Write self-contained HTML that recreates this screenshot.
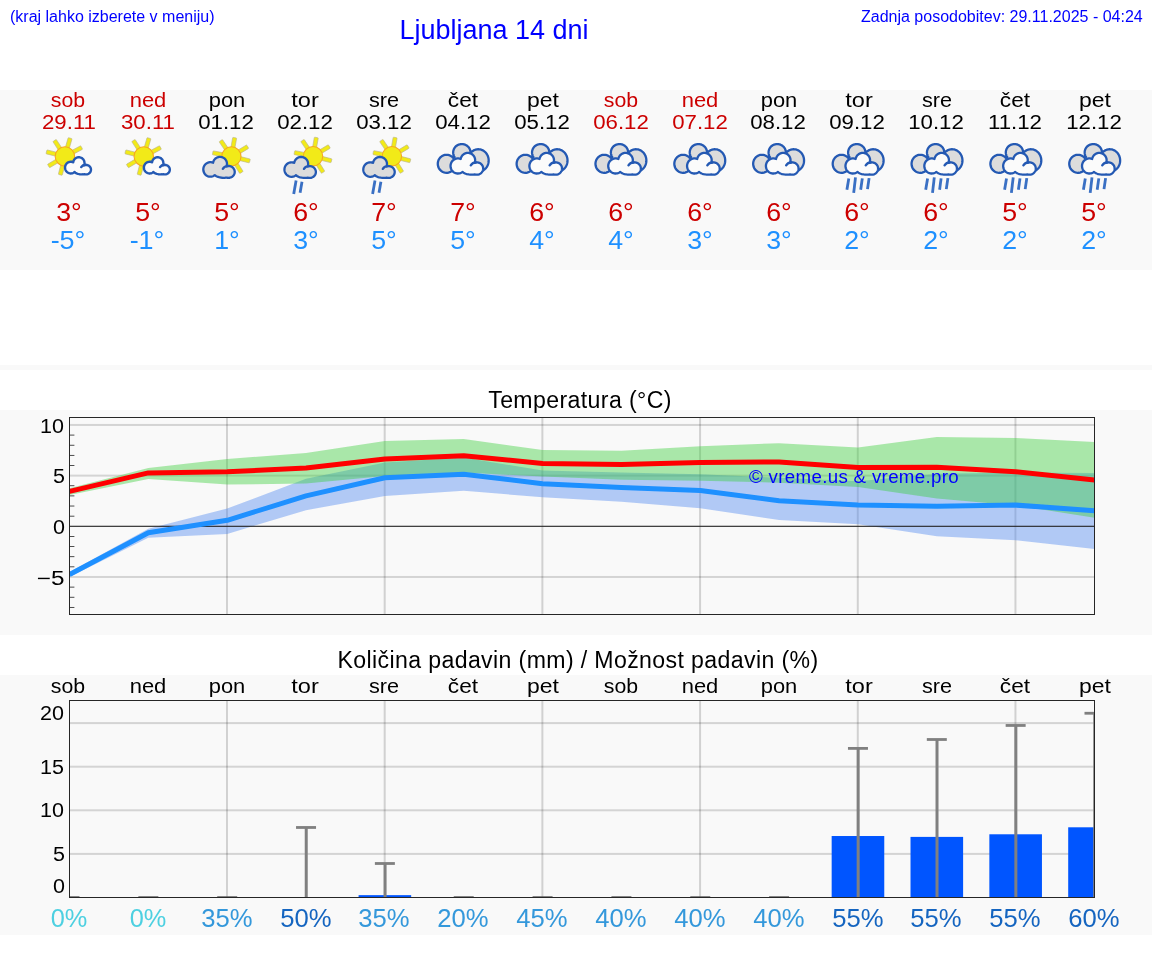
<!DOCTYPE html>
<html lang="sl"><head><meta charset="utf-8"><title>Ljubljana 14 dni</title>
<style>
html,body{margin:0;padding:0;background:#fff}
body{width:1152px;height:975px;position:relative;overflow:hidden;font-family:"Liberation Sans",sans-serif}
.t{position:absolute;white-space:nowrap;line-height:1;will-change:transform;font-family:"Liberation Sans",sans-serif}
.band{position:absolute;left:0;width:1152px;background:#f9f9f9}
svg{position:absolute;left:0;top:0;overflow:visible}
</style></head><body>
<div id="header">
<span class="t " style="top:9.06px;font-size:16.00px;color:#0000ff;left:9.70px;transform-origin:0 50%;transform:scaleX(1.0000);">(kraj lahko izberete v meniju)</span>
<span class="t " style="top:17.04px;font-size:27.00px;color:#0000ff;left:494.20px;transform:translateX(-50%) scaleX(1.0000);">Ljubljana 14 dni</span>
<span class="t " style="top:9.06px;font-size:16.00px;color:#0000ff;right:9.40px;transform-origin:100% 50%;transform:scaleX(1.0000);">Zadnja posodobitev: 29.11.2025 - 04:24</span>
</div>
<div class="band" id="forecast" style="top:90px;height:180px"></div>
<div id="days">
<span class="t " style="top:89.52px;font-size:20.41px;color:#cc0000;left:68.00px;transform:translateX(-50%) scaleX(1.0441);">sob</span>
<span class="t " style="top:112.02px;font-size:20.41px;color:#cc0000;left:68.75px;transform:translateX(-50%) scaleX(1.0895);">29.11</span>
<span class="t " style="top:200.13px;font-size:25.83px;color:#cc0000;left:69.00px;transform:translateX(-50%) scaleX(1.0352);">3°</span>
<span class="t " style="top:228.03px;font-size:25.83px;color:#1e90ff;left:68.10px;transform:translateX(-50%) scaleX(1.0431);">-5°</span>
<span class="t " style="top:89.52px;font-size:20.41px;color:#cc0000;left:147.60px;transform:translateX(-50%) scaleX(1.0753);">ned</span>
<span class="t " style="top:112.02px;font-size:20.41px;color:#cc0000;left:147.60px;transform:translateX(-50%) scaleX(1.0895);">30.11</span>
<span class="t " style="top:200.13px;font-size:25.83px;color:#cc0000;left:147.85px;transform:translateX(-50%) scaleX(1.0352);">5°</span>
<span class="t " style="top:228.03px;font-size:25.83px;color:#1e90ff;left:146.95px;transform:translateX(-50%) scaleX(1.0431);">-1°</span>
<span class="t " style="top:89.52px;font-size:20.41px;color:#000;left:227.19px;transform:translateX(-50%) scaleX(1.0733);">pon</span>
<span class="t " style="top:112.02px;font-size:20.41px;color:#000;left:226.44px;transform:translateX(-50%) scaleX(1.0895);">01.12</span>
<span class="t " style="top:200.13px;font-size:25.83px;color:#cc0000;left:226.69px;transform:translateX(-50%) scaleX(1.0352);">5°</span>
<span class="t " style="top:228.03px;font-size:25.83px;color:#1e90ff;left:226.69px;transform:translateX(-50%) scaleX(1.0352);">1°</span>
<span class="t " style="top:89.52px;font-size:20.41px;color:#000;left:305.04px;transform:translateX(-50%) scaleX(1.1548);">tor</span>
<span class="t " style="top:112.02px;font-size:20.41px;color:#000;left:305.29px;transform:translateX(-50%) scaleX(1.0895);">02.12</span>
<span class="t " style="top:200.13px;font-size:25.83px;color:#cc0000;left:305.54px;transform:translateX(-50%) scaleX(1.0352);">6°</span>
<span class="t " style="top:228.03px;font-size:25.83px;color:#1e90ff;left:305.54px;transform:translateX(-50%) scaleX(1.0352);">3°</span>
<span class="t " style="top:89.52px;font-size:20.41px;color:#000;left:383.88px;transform:translateX(-50%) scaleX(1.0608);">sre</span>
<span class="t " style="top:112.02px;font-size:20.41px;color:#000;left:384.13px;transform:translateX(-50%) scaleX(1.0895);">03.12</span>
<span class="t " style="top:200.13px;font-size:25.83px;color:#cc0000;left:384.38px;transform:translateX(-50%) scaleX(1.0352);">7°</span>
<span class="t " style="top:228.03px;font-size:25.83px;color:#1e90ff;left:384.38px;transform:translateX(-50%) scaleX(1.0352);">5°</span>
<span class="t " style="top:89.52px;font-size:20.41px;color:#000;left:463.23px;transform:translateX(-50%) scaleX(1.1117);">čet</span>
<span class="t " style="top:112.02px;font-size:20.41px;color:#000;left:462.98px;transform:translateX(-50%) scaleX(1.0895);">04.12</span>
<span class="t " style="top:200.13px;font-size:25.83px;color:#cc0000;left:463.23px;transform:translateX(-50%) scaleX(1.0352);">7°</span>
<span class="t " style="top:228.03px;font-size:25.83px;color:#1e90ff;left:463.23px;transform:translateX(-50%) scaleX(1.0352);">5°</span>
<span class="t " style="top:89.52px;font-size:20.41px;color:#000;left:542.58px;transform:translateX(-50%) scaleX(1.1250);">pet</span>
<span class="t " style="top:112.02px;font-size:20.41px;color:#000;left:541.83px;transform:translateX(-50%) scaleX(1.0895);">05.12</span>
<span class="t " style="top:200.13px;font-size:25.83px;color:#cc0000;left:542.08px;transform:translateX(-50%) scaleX(1.0352);">6°</span>
<span class="t " style="top:228.03px;font-size:25.83px;color:#1e90ff;left:542.08px;transform:translateX(-50%) scaleX(1.0352);">4°</span>
<span class="t " style="top:89.52px;font-size:20.41px;color:#cc0000;left:621.17px;transform:translateX(-50%) scaleX(1.0441);">sob</span>
<span class="t " style="top:112.02px;font-size:20.41px;color:#cc0000;left:620.67px;transform:translateX(-50%) scaleX(1.0895);">06.12</span>
<span class="t " style="top:200.13px;font-size:25.83px;color:#cc0000;left:620.92px;transform:translateX(-50%) scaleX(1.0352);">6°</span>
<span class="t " style="top:228.03px;font-size:25.83px;color:#1e90ff;left:620.92px;transform:translateX(-50%) scaleX(1.0352);">4°</span>
<span class="t " style="top:89.52px;font-size:20.41px;color:#cc0000;left:700.02px;transform:translateX(-50%) scaleX(1.0753);">ned</span>
<span class="t " style="top:112.02px;font-size:20.41px;color:#cc0000;left:699.52px;transform:translateX(-50%) scaleX(1.0895);">07.12</span>
<span class="t " style="top:200.13px;font-size:25.83px;color:#cc0000;left:699.77px;transform:translateX(-50%) scaleX(1.0352);">6°</span>
<span class="t " style="top:228.03px;font-size:25.83px;color:#1e90ff;left:699.77px;transform:translateX(-50%) scaleX(1.0352);">3°</span>
<span class="t " style="top:89.52px;font-size:20.41px;color:#000;left:779.36px;transform:translateX(-50%) scaleX(1.0733);">pon</span>
<span class="t " style="top:112.02px;font-size:20.41px;color:#000;left:778.36px;transform:translateX(-50%) scaleX(1.0895);">08.12</span>
<span class="t " style="top:200.13px;font-size:25.83px;color:#cc0000;left:778.61px;transform:translateX(-50%) scaleX(1.0352);">6°</span>
<span class="t " style="top:228.03px;font-size:25.83px;color:#1e90ff;left:778.61px;transform:translateX(-50%) scaleX(1.0352);">3°</span>
<span class="t " style="top:89.52px;font-size:20.41px;color:#000;left:858.71px;transform:translateX(-50%) scaleX(1.1548);">tor</span>
<span class="t " style="top:112.02px;font-size:20.41px;color:#000;left:857.21px;transform:translateX(-50%) scaleX(1.0895);">09.12</span>
<span class="t " style="top:200.13px;font-size:25.83px;color:#cc0000;left:857.46px;transform:translateX(-50%) scaleX(1.0352);">6°</span>
<span class="t " style="top:228.03px;font-size:25.83px;color:#1e90ff;left:857.46px;transform:translateX(-50%) scaleX(1.0352);">2°</span>
<span class="t " style="top:89.52px;font-size:20.41px;color:#000;left:936.81px;transform:translateX(-50%) scaleX(1.0608);">sre</span>
<span class="t " style="top:112.02px;font-size:20.41px;color:#000;left:936.06px;transform:translateX(-50%) scaleX(1.0895);">10.12</span>
<span class="t " style="top:200.13px;font-size:25.83px;color:#cc0000;left:936.31px;transform:translateX(-50%) scaleX(1.0352);">6°</span>
<span class="t " style="top:228.03px;font-size:25.83px;color:#1e90ff;left:936.31px;transform:translateX(-50%) scaleX(1.0352);">2°</span>
<span class="t " style="top:89.52px;font-size:20.41px;color:#000;left:1015.40px;transform:translateX(-50%) scaleX(1.1117);">čet</span>
<span class="t " style="top:112.02px;font-size:20.41px;color:#000;left:1014.90px;transform:translateX(-50%) scaleX(1.0895);">11.12</span>
<span class="t " style="top:200.13px;font-size:25.83px;color:#cc0000;left:1015.15px;transform:translateX(-50%) scaleX(1.0352);">5°</span>
<span class="t " style="top:228.03px;font-size:25.83px;color:#1e90ff;left:1015.15px;transform:translateX(-50%) scaleX(1.0352);">2°</span>
<span class="t " style="top:89.52px;font-size:20.41px;color:#000;left:1095.25px;transform:translateX(-50%) scaleX(1.1250);">pet</span>
<span class="t " style="top:112.02px;font-size:20.41px;color:#000;left:1093.75px;transform:translateX(-50%) scaleX(1.0895);">12.12</span>
<span class="t " style="top:200.13px;font-size:25.83px;color:#cc0000;left:1094.00px;transform:translateX(-50%) scaleX(1.0352);">5°</span>
<span class="t " style="top:228.03px;font-size:25.83px;color:#1e90ff;left:1094.00px;transform:translateX(-50%) scaleX(1.0352);">2°</span>
</div>
<svg id="icons" width="1152" height="975" viewBox="0 0 1152 975"><defs><g id="cG"><path d="M24.89 7.69 24.77 6.78 24.60 6.12 24.28 5.26 23.96 4.65 23.45 3.89 22.85 3.20 22.34 2.74 21.60 2.21 20.79 1.77 20.15 1.52 19.49 1.33 18.59 1.18 17.67 1.15 16.99 1.21 16.31 1.33 15.43 1.60 14.60 1.98 13.82 2.46 13.11 3.04 12.49 3.71 11.96 4.45 11.52 5.26 11.20 6.12 10.99 7.04 9.91 6.69 8.76 6.52 7.84 6.52 6.69 6.69 5.80 6.96 4.75 7.47 3.80 8.15 3.12 8.79 2.40 9.72 1.93 10.54 1.58 11.42 1.34 12.34 1.22 13.28 1.22 14.22 1.34 15.16 1.66 16.30 2.04 17.17 2.53 17.97 3.12 18.71 3.80 19.35 4.36 19.78 5.16 20.25 6.02 20.62 6.91 20.86 7.84 20.98 8.53 21.00 9.23 20.94 9.91 20.81 10.80 20.54 11.44 20.25 12.05 19.91 12.72 19.42 13.76 20.19 14.46 20.59 15.23 20.94 16.06 21.26 16.94 21.52 18.83 21.91 20.16 22.05 21.84 22.10 23.18 22.03 24.52 21.85 25.44 22.07 26.45 22.15 27.66 22.04 28.63 21.77 29.72 21.25 30.54 20.67 31.37 19.82 31.92 19.00 32.38 17.93 32.60 16.98 32.64 15.81 32.44 14.66 32.01 13.57 31.37 12.58 30.98 12.13 30.38 11.60 29.37 10.95 28.25 10.51 27.06 10.28 25.84 10.28 25.24 10.36 24.47 10.56 24.72 9.74 24.84 9.06 24.90 8.38Z" fill="#dcdcdc" stroke="#2459b3" stroke-width="2.3" stroke-linejoin="round"/><path d="M20.70 13.10C21.70 11.50 23.60 10.40 25.80 10.40" fill="none" stroke="#2459b3" stroke-width="2.3" stroke-linecap="round"/></g><g id="cW"><path d="M25.80 7.96 25.67 7.01 25.50 6.32 25.16 5.43 24.84 4.79 24.45 4.19 23.84 3.46 23.15 2.80 22.37 2.25 21.75 1.90 20.87 1.54 20.18 1.34 19.24 1.19 18.29 1.15 17.58 1.21 16.64 1.40 15.96 1.62 15.09 2.01 14.28 2.51 13.55 3.12 12.89 3.81 12.34 4.59 11.89 5.43 11.55 6.32 11.34 7.23 10.27 6.88 9.07 6.70 8.11 6.70 6.91 6.88 5.99 7.17 4.90 7.70 3.90 8.40 3.20 9.07 2.58 9.84 2.07 10.68 1.68 11.57 1.34 12.76 1.22 13.74 1.22 14.72 1.39 15.94 1.68 16.89 2.07 17.79 2.58 18.63 3.20 19.39 3.90 20.06 4.69 20.64 5.54 21.10 6.45 21.45 7.15 21.63 8.11 21.76 8.83 21.77 9.55 21.71 10.27 21.58 10.97 21.37 11.86 21.00 12.49 20.64 13.16 20.16 14.21 20.93 14.94 21.34 15.74 21.71 16.60 22.03 17.52 22.31 19.48 22.71 20.86 22.86 22.60 22.91 24.00 22.84 25.37 22.66 26.32 22.88 27.38 22.97 28.64 22.85 29.65 22.57 30.23 22.33 30.79 22.03 31.31 21.68 31.79 21.29 32.23 20.85 32.62 20.38 33.17 19.51 33.55 18.57 33.71 17.98 33.80 17.37 33.82 16.36 33.75 15.76 33.61 15.16 33.42 14.58 33.17 14.03 32.86 13.49 32.50 12.99 32.09 12.53 31.47 11.98 30.96 11.61 30.42 11.30 29.85 11.04 29.25 10.84 28.01 10.60 26.74 10.60 26.12 10.69 25.39 10.87 25.62 10.09 25.75 9.39 25.81 8.67Z" fill="#fbfbfb" stroke="#2459b3" stroke-width="2.3" stroke-linejoin="round"/><path d="M21.42 13.56C22.46 11.90 24.43 10.76 26.70 10.76" fill="none" stroke="#2459b3" stroke-width="2.3" stroke-linecap="round"/></g><g id="cS"><path d="M20.67 6.48 20.57 5.74 20.44 5.21 20.25 4.69 19.93 4.02 19.63 3.56 19.16 2.99 18.62 2.48 18.02 2.05 17.37 1.70 16.85 1.50 16.14 1.31 15.59 1.23 15.04 1.20 14.30 1.25 13.75 1.35 13.05 1.56 12.37 1.87 11.75 2.26 11.18 2.73 10.56 3.41 10.15 4.02 9.82 4.69 9.58 5.38 9.42 6.26 8.64 5.95 7.72 5.74 6.78 5.70 6.04 5.77 5.31 5.95 4.44 6.30 3.63 6.79 2.92 7.41 2.43 7.99 1.92 8.79 1.61 9.49 1.39 10.22 1.27 10.98 1.25 11.93 1.39 12.88 1.61 13.61 1.92 14.31 2.31 14.96 2.79 15.55 3.34 16.08 3.95 16.52 4.61 16.88 5.31 17.15 5.85 17.29 6.41 17.38 7.16 17.40 7.91 17.33 8.46 17.21 9.16 16.96 9.67 16.71 10.16 16.42 10.68 16.01 11.55 16.70 12.72 17.32 14.09 17.80 15.62 18.14 16.96 18.29 18.06 18.33 19.43 18.27 20.62 18.12 21.41 18.31 22.22 18.37 23.19 18.28 23.97 18.07 24.70 17.73 25.50 17.19 26.16 16.51 26.68 15.72 27.02 14.84 27.17 14.07 27.18 13.30 27.02 12.37 26.87 11.93 26.60 11.36 26.26 10.83 25.96 10.47 25.50 10.03 25.12 9.74 24.27 9.27 23.35 8.97 22.87 8.88 22.22 8.84 21.57 8.88 21.09 8.97 20.13 9.29 20.38 8.66 20.57 7.95 20.67 7.22Z" fill="#fbfbfb" stroke="#2459b3" stroke-width="2.4" stroke-linejoin="round"/><path d="M17.39 11.00C18.23 9.66 19.82 8.74 21.67 8.74" fill="none" stroke="#2459b3" stroke-width="2.4" stroke-linecap="round"/></g><g id="cB"><path d="M33.83 9.05 33.68 7.95 33.39 6.88 32.96 5.86 32.55 5.14 32.06 4.46 31.32 3.62 30.47 2.90 29.53 2.28 28.51 1.79 27.44 1.44 26.33 1.22 25.20 1.15 24.07 1.22 23.24 1.37 22.15 1.69 21.12 2.15 20.39 2.57 19.71 3.07 18.89 3.82 18.34 4.46 17.85 5.14 17.44 5.86 17.10 6.62 16.84 7.41 16.67 8.22 16.57 9.05 16.57 10.15 16.67 10.98 16.84 11.79 17.10 12.58 17.44 13.34 17.97 14.23 17.35 14.63 16.65 15.18 15.88 14.33 15.00 13.58 14.02 12.96 13.25 12.59 12.44 12.29 11.33 12.02 10.47 11.92 9.33 11.92 8.19 12.07 7.36 12.29 6.55 12.59 5.78 12.96 5.04 13.42 4.35 13.94 3.71 14.54 3.14 15.19 2.47 16.15 1.82 17.46 1.38 18.86 1.19 20.02 1.15 21.19 1.32 22.66 1.61 23.79 2.18 25.14 2.79 26.14 3.51 27.05 4.35 27.86 5.28 28.54 6.29 29.10 7.36 29.51 8.47 29.78 9.61 29.90 10.76 29.86 11.89 29.66 12.98 29.32 14.02 28.84 15.00 28.22 15.88 27.47 16.66 26.61 17.46 25.44 18.48 26.07 19.42 26.53 20.41 26.92 21.47 27.25 22.56 27.51 23.69 27.70 24.84 27.81 26.00 27.85 27.16 27.81 28.31 27.70 29.44 27.51 30.53 27.25 31.59 26.92 32.58 26.53 33.52 26.07 34.27 25.62 34.97 26.30 35.79 26.95 36.67 27.52 37.60 27.99 38.57 28.37 39.56 28.63 40.24 28.75 41.26 28.84 41.94 28.84 42.96 28.75 43.64 28.63 44.63 28.37 45.60 27.99 46.22 27.69 46.83 27.34 47.69 26.74 48.74 25.81 49.46 25.02 50.09 24.15 50.65 23.22 51.12 22.24 51.50 21.22 51.78 20.15 51.96 19.07 52.04 17.97 52.03 16.86 51.91 15.77 51.69 14.69 51.38 13.64 50.97 12.62 50.29 11.35 49.68 10.46 48.99 9.65 48.23 8.90 47.41 8.25 46.53 7.68 45.60 7.21 44.63 6.83 43.64 6.57 42.62 6.40 41.60 6.35 40.24 6.45 38.90 6.73 37.92 7.07 36.98 7.51 35.79 8.25 34.71 9.14 33.84 10.07Z" fill="#dcdcdc" stroke="#2459b3" stroke-width="2.3" stroke-linejoin="round"/></g></defs>
<g transform="translate(64.90 156.40)"><g fill="#f2ea18" stroke="#b9b489" stroke-width=".6"><rect x="9" y="-2" width="10" height="4" rx=".6" transform="rotate(104)"/><rect x="9" y="-2" width="10" height="4" rx=".6" transform="rotate(149.5)"/><rect x="9" y="-2" width="10" height="4" rx=".6" transform="rotate(194)"/><rect x="9" y="-2" width="10" height="4" rx=".6" transform="rotate(237)"/><rect x="9" y="-2" width="10" height="4" rx=".6" transform="rotate(286)"/><rect x="9" y="-2" width="10" height="4" rx=".6" transform="rotate(332)"/></g><circle r="9.7" fill="#f2ea18" stroke="#f6a821" stroke-width="1.1"/></g><use href="#cS" x="63.80" y="156.05"/>
<g transform="translate(143.75 156.40)"><g fill="#f2ea18" stroke="#b9b489" stroke-width=".6"><rect x="9" y="-2" width="10" height="4" rx=".6" transform="rotate(104)"/><rect x="9" y="-2" width="10" height="4" rx=".6" transform="rotate(149.5)"/><rect x="9" y="-2" width="10" height="4" rx=".6" transform="rotate(194)"/><rect x="9" y="-2" width="10" height="4" rx=".6" transform="rotate(237)"/><rect x="9" y="-2" width="10" height="4" rx=".6" transform="rotate(286)"/><rect x="9" y="-2" width="10" height="4" rx=".6" transform="rotate(332)"/></g><circle r="9.7" fill="#f2ea18" stroke="#f6a821" stroke-width="1.1"/></g><use href="#cS" x="142.65" y="156.05"/>
<g transform="translate(231.39 156.40)"><g fill="#f2ea18" stroke="#b9b489" stroke-width=".6"><rect x="9" y="-2" width="10" height="4" rx=".6" transform="rotate(14)"/><rect x="9" y="-2" width="10" height="4" rx=".6" transform="rotate(58)"/><rect x="9" y="-2" width="10" height="4" rx=".6" transform="rotate(191)"/><rect x="9" y="-2" width="10" height="4" rx=".6" transform="rotate(236)"/><rect x="9" y="-2" width="10" height="4" rx=".6" transform="rotate(280)"/><rect x="9" y="-2" width="10" height="4" rx=".6" transform="rotate(329)"/></g><circle r="9.6" fill="#f2ea18" stroke="#f6a821" stroke-width="1.1"/></g><use href="#cG" x="202.09" y="155.70"/>
<g transform="translate(313.04 156.20)"><g fill="#f2ea18" stroke="#b9b489" stroke-width=".6"><rect x="9" y="-2" width="10" height="4" rx=".6" transform="rotate(14)"/><rect x="9" y="-2" width="10" height="4" rx=".6" transform="rotate(58)"/><rect x="9" y="-2" width="10" height="4" rx=".6" transform="rotate(191)"/><rect x="9" y="-2" width="10" height="4" rx=".6" transform="rotate(236)"/><rect x="9" y="-2" width="10" height="4" rx=".6" transform="rotate(280)"/><rect x="9" y="-2" width="10" height="4" rx=".6" transform="rotate(329)"/></g><circle r="9.7" fill="#f2ea18" stroke="#f6a821" stroke-width="1.1"/></g><use href="#cG" x="283.24" y="155.80"/><line x1="296.1" y1="180.5" x2="293.7" y2="194.0" stroke="#3a70c4" stroke-width="2.8"/><line x1="302.0" y1="181.7" x2="300.1" y2="192.8" stroke="#3a70c4" stroke-width="2.8"/>
<g transform="translate(391.88 156.20)"><g fill="#f2ea18" stroke="#b9b489" stroke-width=".6"><rect x="9" y="-2" width="10" height="4" rx=".6" transform="rotate(14)"/><rect x="9" y="-2" width="10" height="4" rx=".6" transform="rotate(58)"/><rect x="9" y="-2" width="10" height="4" rx=".6" transform="rotate(191)"/><rect x="9" y="-2" width="10" height="4" rx=".6" transform="rotate(236)"/><rect x="9" y="-2" width="10" height="4" rx=".6" transform="rotate(280)"/><rect x="9" y="-2" width="10" height="4" rx=".6" transform="rotate(329)"/></g><circle r="9.7" fill="#f2ea18" stroke="#f6a821" stroke-width="1.1"/></g><use href="#cG" x="362.08" y="155.80"/><line x1="375.0" y1="180.5" x2="372.6" y2="194.0" stroke="#3a70c4" stroke-width="2.8"/><line x1="380.9" y1="181.7" x2="379.0" y2="192.8" stroke="#3a70c4" stroke-width="2.8"/>
<use href="#cB" x="436.63" y="142.90"/><use href="#cW" x="449.33" y="151.75"/>
<use href="#cB" x="515.48" y="142.90"/><use href="#cW" x="528.18" y="151.75"/>
<use href="#cB" x="594.32" y="142.90"/><use href="#cW" x="607.02" y="151.75"/>
<use href="#cB" x="673.17" y="142.90"/><use href="#cW" x="685.87" y="151.75"/>
<use href="#cB" x="752.01" y="142.90"/><use href="#cW" x="764.71" y="151.75"/>
<use href="#cB" x="831.56" y="142.90"/><use href="#cW" x="844.26" y="151.75"/><line x1="848.8" y1="178.4" x2="846.9" y2="189.7" stroke="#3a70c4" stroke-width="2.8"/><line x1="855.5" y1="177.4" x2="853.7" y2="192.8" stroke="#3a70c4" stroke-width="2.8"/><line x1="862.3" y1="178.4" x2="860.7" y2="189.7" stroke="#3a70c4" stroke-width="2.8"/><line x1="869.1" y1="178.1" x2="867.5" y2="189.1" stroke="#3a70c4" stroke-width="2.8"/>
<use href="#cB" x="910.41" y="142.90"/><use href="#cW" x="923.11" y="151.75"/><line x1="927.6" y1="178.4" x2="925.7" y2="189.7" stroke="#3a70c4" stroke-width="2.8"/><line x1="934.3" y1="177.4" x2="932.5" y2="192.8" stroke="#3a70c4" stroke-width="2.8"/><line x1="941.1" y1="178.4" x2="939.6" y2="189.7" stroke="#3a70c4" stroke-width="2.8"/><line x1="947.9" y1="178.1" x2="946.3" y2="189.1" stroke="#3a70c4" stroke-width="2.8"/>
<use href="#cB" x="989.25" y="142.90"/><use href="#cW" x="1001.95" y="151.75"/><line x1="1006.5" y1="178.4" x2="1004.6" y2="189.7" stroke="#3a70c4" stroke-width="2.8"/><line x1="1013.2" y1="177.4" x2="1011.4" y2="192.8" stroke="#3a70c4" stroke-width="2.8"/><line x1="1020.0" y1="178.4" x2="1018.4" y2="189.7" stroke="#3a70c4" stroke-width="2.8"/><line x1="1026.8" y1="178.1" x2="1025.2" y2="189.1" stroke="#3a70c4" stroke-width="2.8"/>
<use href="#cB" x="1068.10" y="142.90"/><use href="#cW" x="1080.80" y="151.75"/><line x1="1085.3" y1="178.4" x2="1083.4" y2="189.7" stroke="#3a70c4" stroke-width="2.8"/><line x1="1092.0" y1="177.4" x2="1090.2" y2="192.8" stroke="#3a70c4" stroke-width="2.8"/><line x1="1098.8" y1="178.4" x2="1097.2" y2="189.7" stroke="#3a70c4" stroke-width="2.8"/><line x1="1105.6" y1="178.1" x2="1104.0" y2="189.1" stroke="#3a70c4" stroke-width="2.8"/>
</svg>
<div class="band" style="top:365px;height:5px"></div>
<div class="band" id="tempchart" style="top:410px;height:224.5px"></div>
<span class="t " style="top:388.55px;font-size:23.10px;color:#000;letter-spacing:0.39px;left:580.10px;transform:translateX(-50%) scaleX(1.0000);">Temperatura (°C)</span>
<svg id="tempsvg" width="1152" height="975" viewBox="0 0 1152 975"><clipPath id="ct"><rect x="69.5" y="417.5" width="1025.0" height="197.0"/></clipPath><g clip-path="url(#ct)"><rect x="69.5" y="423.95" width="1025.0" height="2" fill="#000" fill-opacity=".15"/><rect x="69.5" y="474.62" width="1025.0" height="2" fill="#000" fill-opacity=".15"/><rect x="69.5" y="575.97" width="1025.0" height="2" fill="#000" fill-opacity=".15"/><rect x="225.99" y="417.5" width="2" height="197.0" fill="#000" fill-opacity=".16"/><rect x="383.68" y="417.5" width="2" height="197.0" fill="#000" fill-opacity=".16"/><rect x="541.38" y="417.5" width="2" height="197.0" fill="#000" fill-opacity=".16"/><rect x="699.07" y="417.5" width="2" height="197.0" fill="#000" fill-opacity=".16"/><rect x="856.76" y="417.5" width="2" height="197.0" fill="#000" fill-opacity=".16"/><rect x="1014.45" y="417.5" width="2" height="197.0" fill="#000" fill-opacity=".16"/><polygon points="69.5,571.9 148.3,528.7 227.2,508.6 306.0,478.7 384.9,462.4 463.7,457.4 542.6,470.6 621.4,472.6 700.3,474.3 779.1,477.7 858.0,481.3 936.8,473.8 1015.7,472.6 1094.5,473.0 1094.5,548.9 1015.7,540.2 936.8,536.3 858.0,524.3 779.1,520.0 700.3,508.3 621.4,501.8 542.6,497.3 463.7,490.8 384.9,495.9 306.0,510.2 227.2,533.9 148.3,537.8 69.5,577.0" fill="#4682f0" fill-opacity="0.4"/><polygon points="69.5,488.3 148.3,468.0 227.2,458.9 306.0,453.1 384.9,441.0 463.7,439.1 542.6,450.1 621.4,450.8 700.3,446.2 779.1,443.2 858.0,447.6 936.8,437.0 1015.7,437.9 1094.5,442.1 1094.5,517.7 1015.7,505.4 936.8,498.5 858.0,487.1 779.1,482.7 700.3,480.7 621.4,479.7 542.6,476.6 463.7,472.6 384.9,476.1 306.0,483.5 227.2,484.6 148.3,479.0 69.5,494.9" fill="#32cd32" fill-opacity="0.4"/><rect x="69.5" y="525.75" width="1025.0" height="1.1" fill="#222"/><polyline points="69.5,574.5 148.3,532.8 227.2,520.3 306.0,495.9 384.9,477.7 463.7,474.3 542.6,483.7 621.4,487.5 700.3,490.5 779.1,500.8 858.0,505.0 936.8,506.3 1015.7,505.1 1094.5,510.7" fill="none" stroke="#1e90ff" stroke-width="5" stroke-linejoin="round"/><polyline points="69.5,491.4 148.3,472.9 227.2,471.8 306.0,468.0 384.9,459.1 463.7,455.7 542.6,463.5 621.4,464.5 700.3,462.4 779.1,462.0 858.0,467.5 936.8,467.2 1015.7,471.8 1094.5,480.0" fill="none" stroke="#ff0000" stroke-width="5" stroke-linejoin="round"/></g><rect x="69.5" y="606.98" width="4.9" height=".8" fill="#222"/><rect x="69.5" y="596.84" width="4.9" height=".8" fill="#222"/><rect x="69.5" y="586.71" width="4.9" height=".8" fill="#222"/><rect x="69.5" y="566.44" width="4.9" height=".8" fill="#222"/><rect x="69.5" y="556.30" width="4.9" height=".8" fill="#222"/><rect x="69.5" y="546.17" width="4.9" height=".8" fill="#222"/><rect x="69.5" y="536.03" width="4.9" height=".8" fill="#222"/><rect x="69.5" y="515.76" width="4.9" height=".8" fill="#222"/><rect x="69.5" y="505.63" width="4.9" height=".8" fill="#222"/><rect x="69.5" y="495.50" width="4.9" height=".8" fill="#222"/><rect x="69.5" y="485.36" width="4.9" height=".8" fill="#222"/><rect x="69.5" y="465.09" width="4.9" height=".8" fill="#222"/><rect x="69.5" y="454.95" width="4.9" height=".8" fill="#222"/><rect x="69.5" y="444.82" width="4.9" height=".8" fill="#222"/><rect x="69.5" y="434.68" width="4.9" height=".8" fill="#222"/><rect x="69.5" y="417.5" width="1025.0" height="197.0" fill="none" stroke="#262626" stroke-width="1"/></svg>
<span class="t " style="top:416.64px;font-size:19.74px;color:#000;right:1087.70px;transform-origin:100% 50%;transform:scaleX(1.0895);">10</span>
<span class="t " style="top:467.32px;font-size:19.74px;color:#000;right:1086.70px;transform-origin:100% 50%;transform:scaleX(1.0895);">5</span>
<span class="t " style="top:517.99px;font-size:19.74px;color:#000;right:1086.70px;transform-origin:100% 50%;transform:scaleX(1.0895);">0</span>
<span class="t " style="top:568.67px;font-size:19.74px;color:#000;right:1087.70px;transform-origin:100% 50%;transform:scaleX(1.2314);">−5</span>
<span class="t " style="top:468.47px;font-size:18.70px;color:#0000ff;letter-spacing:0.33px;left:853.90px;transform:translateX(-50%) scaleX(1.0000);">© vreme.us &amp; vreme.pro</span>
<div class="band" id="rainchart" style="top:675px;height:260px"></div>
<span class="t " style="top:649.05px;font-size:23.10px;color:#000;letter-spacing:0.38px;left:578.40px;transform:translateX(-50%) scaleX(1.0000);">Količina padavin (mm) / Možnost padavin (%)</span>
<svg id="rainsvg" width="1152" height="975" viewBox="0 0 1152 975"><clipPath id="cp"><rect x="69.5" y="700.5" width="1025.0" height="197.0"/></clipPath><g clip-path="url(#cp)"><rect x="69.5" y="852.90" width="1025.0" height="2" fill="#000" fill-opacity=".15"/><rect x="69.5" y="809.30" width="1025.0" height="2" fill="#000" fill-opacity=".15"/><rect x="69.5" y="765.70" width="1025.0" height="2" fill="#000" fill-opacity=".15"/><rect x="69.5" y="722.10" width="1025.0" height="2" fill="#000" fill-opacity=".15"/><rect x="225.99" y="700.5" width="2" height="197.0" fill="#000" fill-opacity=".16"/><rect x="383.68" y="700.5" width="2" height="197.0" fill="#000" fill-opacity=".16"/><rect x="541.38" y="700.5" width="2" height="197.0" fill="#000" fill-opacity=".16"/><rect x="699.07" y="700.5" width="2" height="197.0" fill="#000" fill-opacity=".16"/><rect x="856.76" y="700.5" width="2" height="197.0" fill="#000" fill-opacity=".16"/><rect x="1014.45" y="700.5" width="2" height="197.0" fill="#000" fill-opacity=".16"/><rect x="358.58" y="895.15" width="52.6" height="2.35" fill="#0055ff"/><rect x="831.66" y="836.02" width="52.6" height="61.48" fill="#0055ff"/><rect x="910.51" y="836.90" width="52.6" height="60.60" fill="#0055ff"/><rect x="989.35" y="834.28" width="52.6" height="63.22" fill="#0055ff"/><rect x="1068.20" y="827.30" width="52.6" height="70.20" fill="#0055ff"/><rect x="59.50" y="896.30" width="20" height="1.6" fill="#555"/><rect x="138.35" y="896.30" width="20" height="1.6" fill="#555"/><rect x="217.19" y="896.30" width="20" height="1.6" fill="#555"/><rect x="304.74" y="827.48" width="3" height="70.02" fill="#808080"/><rect x="296.04" y="826.08" width="20" height="2.8" fill="#808080"/><rect x="383.58" y="863.49" width="3" height="34.01" fill="#808080"/><rect x="374.88" y="862.09" width="20" height="2.8" fill="#808080"/><rect x="453.73" y="896.30" width="20" height="1.6" fill="#555"/><rect x="532.58" y="896.30" width="20" height="1.6" fill="#555"/><rect x="611.42" y="896.30" width="20" height="1.6" fill="#555"/><rect x="690.27" y="896.30" width="20" height="1.6" fill="#555"/><rect x="769.11" y="896.30" width="20" height="1.6" fill="#555"/><rect x="856.66" y="748.39" width="3" height="149.11" fill="#808080"/><rect x="847.96" y="746.99" width="20" height="2.8" fill="#808080"/><rect x="935.51" y="739.49" width="3" height="158.01" fill="#808080"/><rect x="926.81" y="738.09" width="20" height="2.8" fill="#808080"/><rect x="1014.35" y="725.45" width="3" height="172.05" fill="#808080"/><rect x="1005.65" y="724.05" width="20" height="2.8" fill="#808080"/><rect x="1093.20" y="713.25" width="3" height="184.25" fill="#808080"/><rect x="1084.50" y="711.85" width="20" height="2.8" fill="#808080"/></g><rect x="69.5" y="700.5" width="1025.0" height="197.0" fill="none" stroke="#262626" stroke-width="1"/></svg>
<span class="t " style="top:675.52px;font-size:20.41px;color:#000;left:68.00px;transform:translateX(-50%) scaleX(1.0441);">sob</span>
<span class="t " style="top:675.52px;font-size:20.41px;color:#000;left:147.60px;transform:translateX(-50%) scaleX(1.0753);">ned</span>
<span class="t " style="top:675.52px;font-size:20.41px;color:#000;left:227.19px;transform:translateX(-50%) scaleX(1.0733);">pon</span>
<span class="t " style="top:675.52px;font-size:20.41px;color:#000;left:305.04px;transform:translateX(-50%) scaleX(1.1548);">tor</span>
<span class="t " style="top:675.52px;font-size:20.41px;color:#000;left:383.88px;transform:translateX(-50%) scaleX(1.0608);">sre</span>
<span class="t " style="top:675.52px;font-size:20.41px;color:#000;left:463.23px;transform:translateX(-50%) scaleX(1.1117);">čet</span>
<span class="t " style="top:675.52px;font-size:20.41px;color:#000;left:542.58px;transform:translateX(-50%) scaleX(1.1250);">pet</span>
<span class="t " style="top:675.52px;font-size:20.41px;color:#000;left:621.17px;transform:translateX(-50%) scaleX(1.0441);">sob</span>
<span class="t " style="top:675.52px;font-size:20.41px;color:#000;left:700.02px;transform:translateX(-50%) scaleX(1.0753);">ned</span>
<span class="t " style="top:675.52px;font-size:20.41px;color:#000;left:779.36px;transform:translateX(-50%) scaleX(1.0733);">pon</span>
<span class="t " style="top:675.52px;font-size:20.41px;color:#000;left:858.71px;transform:translateX(-50%) scaleX(1.1548);">tor</span>
<span class="t " style="top:675.52px;font-size:20.41px;color:#000;left:936.81px;transform:translateX(-50%) scaleX(1.0608);">sre</span>
<span class="t " style="top:675.52px;font-size:20.41px;color:#000;left:1015.40px;transform:translateX(-50%) scaleX(1.1117);">čet</span>
<span class="t " style="top:675.52px;font-size:20.41px;color:#000;left:1095.25px;transform:translateX(-50%) scaleX(1.1250);">pet</span>
<span class="t " style="top:704.19px;font-size:19.74px;color:#000;right:1087.70px;transform-origin:100% 50%;transform:scaleX(1.0895);">20</span>
<span class="t " style="top:758.29px;font-size:19.74px;color:#000;right:1087.70px;transform-origin:100% 50%;transform:scaleX(1.0895);">15</span>
<span class="t " style="top:801.29px;font-size:19.74px;color:#000;right:1087.70px;transform-origin:100% 50%;transform:scaleX(1.0895);">10</span>
<span class="t " style="top:844.99px;font-size:19.74px;color:#000;right:1086.70px;transform-origin:100% 50%;transform:scaleX(1.0895);">5</span>
<span class="t " style="top:876.99px;font-size:19.74px;color:#000;right:1086.70px;transform-origin:100% 50%;transform:scaleX(1.0895);">0</span>
<span class="t " style="top:906.05px;font-size:24.99px;color:#4dd0e1;left:69.10px;transform:translateX(-50%) scaleX(1.0146);">0%</span>
<span class="t " style="top:906.05px;font-size:24.99px;color:#4dd0e1;left:147.95px;transform:translateX(-50%) scaleX(1.0146);">0%</span>
<span class="t " style="top:906.05px;font-size:24.99px;color:#3498db;left:226.79px;transform:translateX(-50%) scaleX(1.0265);">35%</span>
<span class="t " style="top:906.05px;font-size:24.99px;color:#1565c0;left:305.64px;transform:translateX(-50%) scaleX(1.0265);">50%</span>
<span class="t " style="top:906.05px;font-size:24.99px;color:#3498db;left:384.48px;transform:translateX(-50%) scaleX(1.0265);">35%</span>
<span class="t " style="top:906.05px;font-size:24.99px;color:#3498db;left:463.33px;transform:translateX(-50%) scaleX(1.0265);">20%</span>
<span class="t " style="top:906.05px;font-size:24.99px;color:#3498db;left:542.18px;transform:translateX(-50%) scaleX(1.0265);">45%</span>
<span class="t " style="top:906.05px;font-size:24.99px;color:#3498db;left:621.02px;transform:translateX(-50%) scaleX(1.0265);">40%</span>
<span class="t " style="top:906.05px;font-size:24.99px;color:#3498db;left:699.87px;transform:translateX(-50%) scaleX(1.0265);">40%</span>
<span class="t " style="top:906.05px;font-size:24.99px;color:#3498db;left:778.71px;transform:translateX(-50%) scaleX(1.0265);">40%</span>
<span class="t " style="top:906.05px;font-size:24.99px;color:#1565c0;left:857.56px;transform:translateX(-50%) scaleX(1.0265);">55%</span>
<span class="t " style="top:906.05px;font-size:24.99px;color:#1565c0;left:936.41px;transform:translateX(-50%) scaleX(1.0265);">55%</span>
<span class="t " style="top:906.05px;font-size:24.99px;color:#1565c0;left:1015.25px;transform:translateX(-50%) scaleX(1.0265);">55%</span>
<span class="t " style="top:906.05px;font-size:24.99px;color:#1565c0;left:1094.10px;transform:translateX(-50%) scaleX(1.0265);">60%</span>
</body></html>
